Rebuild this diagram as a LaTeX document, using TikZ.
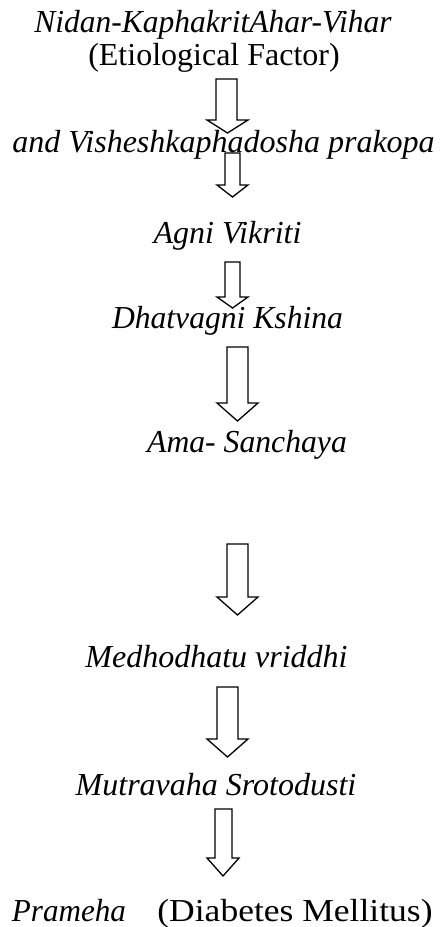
\documentclass[tikz,border=0pt]{standalone}
\usepackage{fontspec}
\setmainfont{Liberation Serif}
\usepackage{graphicx}
\newcommand\blkarrow[8]{% shaftL shaftR top headbase headL headR tipx tipy
  \draw[blockarr] (#1,#3) -- (#2,#3) -- (#2,#4) -- (#6,#4) -- (#7,#8) -- (#5,#4) -- (#1,#4) -- cycle;}
\begin{document}
\begin{tikzpicture}[x=1pt,y=-1pt,
  lbl/.style={inner sep=0pt,outer sep=0pt,anchor=base,font=\fontsize{32}{34}\selectfont},
  blockarr/.style={draw=black,line width=1.3pt,line join=miter,fill=none}]
\useasboundingbox (0,0) rectangle (441,927);
\node[lbl] (n1) at (213,32) {\scalebox{0.983}[1]{\itshape Nidan-KaphakritAhar-Vihar}};
\node[lbl] (n2) at (214,65) {(Etiological Factor)};
\node[lbl] (n3) at (223.5,152) {\itshape and Visheshkaphadosha prakopa};
\node[lbl] (n4) at (227.5,243) {\itshape Agni Vikriti};
\node[lbl] (n5) at (227.5,328) {\scalebox{0.988}[1]{\itshape Dhatvagni Kshina}};
\node[lbl] (n6) at (247,452) {\scalebox{0.99}[1]{\itshape Ama- Sanchaya}};
\node[lbl] (n7) at (216.5,667) {\itshape Medhodhatu vriddhi};
\node[lbl] (n8) at (216,795) {\itshape Mutravaha Srotodusti};
\node[lbl] (n9) at (69,921) {\scalebox{0.972}[1]{\itshape Prameha}};
\node[lbl] (n10) at (295,921) {\scalebox{1.11}[1]{(Diabetes Mellitus)}};
\blkarrow{216}{237}{79}{120}{207}{248}{227.5}{133}
\blkarrow{225}{240}{153}{185}{217}{248}{232.5}{197}
\blkarrow{225}{240}{262}{297}{217}{248}{232.5}{308}
\blkarrow{227}{248}{347}{403}{217}{258}{237.5}{421}
\blkarrow{227}{248}{544}{597}{217}{258}{237.5}{615}
\blkarrow{217}{238}{687}{739}{207}{248}{227.5}{757}
\blkarrow{215}{232}{809}{858}{207}{239}{223}{876}
\end{tikzpicture}
\end{document}
